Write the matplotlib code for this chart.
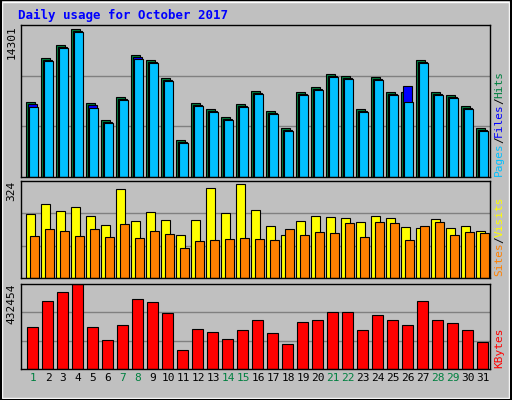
import matplotlib
matplotlib.use("Agg")
import matplotlib.pyplot as plt
import numpy as np

days = list(range(1, 32))
weekend = [1, 7, 8, 14, 15, 21, 22, 28, 29]
hits = [7247, 11499, 12755, 14301, 7150, 5508, 7730, 11789, 11306, 9566, 3575, 7150, 6571, 5798, 7054,
        8310, 6378, 4735, 8213, 8697, 9953, 9760, 6571, 9663, 8213, 8213, 11306, 8213, 7923, 6861, 4735]
files = [7050, 11300, 12560, 14100, 6950, 5310, 7530, 11590, 11110, 9370, 3380, 6950, 6380, 5600, 6860,
         8110, 6180, 4540, 8020, 8500, 9760, 9570, 6380, 9470, 8020, 8793, 11110, 8020, 7730, 6670, 4540]
pages = [6760, 11200, 12460, 14010, 6660, 5220, 7440, 11400, 11010, 9280, 3290, 6860, 6280, 5510, 6760,
         8020, 6090, 4440, 7920, 8400, 9660, 9470, 6280, 9370, 7920, 7247, 11010, 7920, 7630, 6570, 4440]
visits = [214, 247, 224, 237, 207, 177, 297, 190, 220, 194, 144, 194, 301, 217, 314, 227, 174, 144,
          190, 207, 204, 200, 187, 207, 200, 170, 167, 197, 167, 174, 157]
sites = [140, 164, 157, 140, 164, 137, 180, 134, 157, 147, 100, 124, 127, 130, 134, 130, 127, 164,
         144, 154, 150, 184, 137, 187, 184, 127, 174, 187, 144, 154, 150]
kbytes = [213700, 346000, 391800, 432454, 213700, 147550, 223900, 356200, 340900, 284900, 96670,
          203500, 188300, 152600, 198400, 249300, 183200, 127200, 239100, 249300, 290000, 290000,
          198400, 274800, 249300, 223900, 346000, 249300, 234000, 198400, 137400]

mono = "DejaVu Sans Mono"
bg = "#c0c0c0"
fig = plt.figure(figsize=(5.12, 4.0), dpi=100, facecolor=bg)
x = np.array(days, dtype=float)

def mk(rect, top, head):
    ax = fig.add_axes(rect, facecolor=bg)
    ax.set_xlim(0.2, 31.45)
    ax.set_ylim(0, top * head)
    ax.set_xticks([]); ax.set_yticks([])
    for f in (1/3, 2/3):
        ax.axhline(top * head * f, color="#808080", lw=1, zorder=0)
    for s in ax.spines.values():
        s.set_color("black"); s.set_linewidth(1)
    return ax

ax1 = mk([0.041, 0.5575, 0.916, 0.38], max(hits), 1.027)
kw = dict(width=0.6, edgecolor="black", linewidth=0.8, align="edge")
ax1.bar(x - 0.45, hits, color="#008040", **kw)
ax1.bar(x - 0.35, files, color="#0000ff", **kw)
ax1.bar(x - 0.25, pages, color="#00c0ff", **kw)

ax2 = mk([0.041, 0.305, 0.916, 0.2425], 324, 1.0)
ax2.bar(x - 0.45, visits, color="#ffff00", **kw)
ax2.bar(x - 0.2, sites, color="#ff8000", **kw)

ax3 = mk([0.041, 0.0775, 0.916, 0.2125], max(kbytes), 1.0)
ax3.bar(x - 0.4, kbytes, color="#ff0000", width=0.75, edgecolor="black", linewidth=0.8, align="edge")

for ax, lab in ((ax1, str(max(hits))), (ax2, "324"), (ax3, str(max(kbytes)))):
    ax.text(-0.01, 1.0, lab, transform=ax.transAxes, rotation=90, ha="right", va="top",
            family=mono, fontsize=8)

for d in days:
    ax3.text(d, -0.05, str(d), transform=ax3.get_xaxis_transform(), ha="center", va="top",
             family=mono, fontsize=8, color="#008040" if d in weekend else "black")

fig.text(0.035, 0.962, "Daily usage for October 2017", family=mono, fontsize=9,
         fontweight="bold", color="#0000ff", va="center")

def rlabel(y, parts):
    yy = y
    for txt, col in parts:
        fig.text(0.975, yy, txt, rotation=90, family=mono, fontsize=8, color=col,
                 ha="center", va="bottom")
        yy += len(txt) * 0.0163

rlabel(0.56, [("Pages", "#00c0ff"), ("/", "black"), ("Files", "#0000ff"), ("/", "black"), ("Hits", "#008040")])
rlabel(0.31, [("Sites", "#ff8000"), ("/", "black"), ("Visits", "#ffff00")])
rlabel(0.08, [("KBytes", "#ff0000")])

fig.patches.append(plt.Rectangle((0.004, 0.005), 0.99, 0.99, transform=fig.transFigure,
                                 fill=False, edgecolor="white", lw=1))
fig.patches.append(plt.Rectangle((0.001, 0.001), 0.998, 0.998, transform=fig.transFigure,
                                 fill=False, edgecolor="black", lw=1.5))
fig.savefig("out.png", dpi=100, facecolor=bg)
